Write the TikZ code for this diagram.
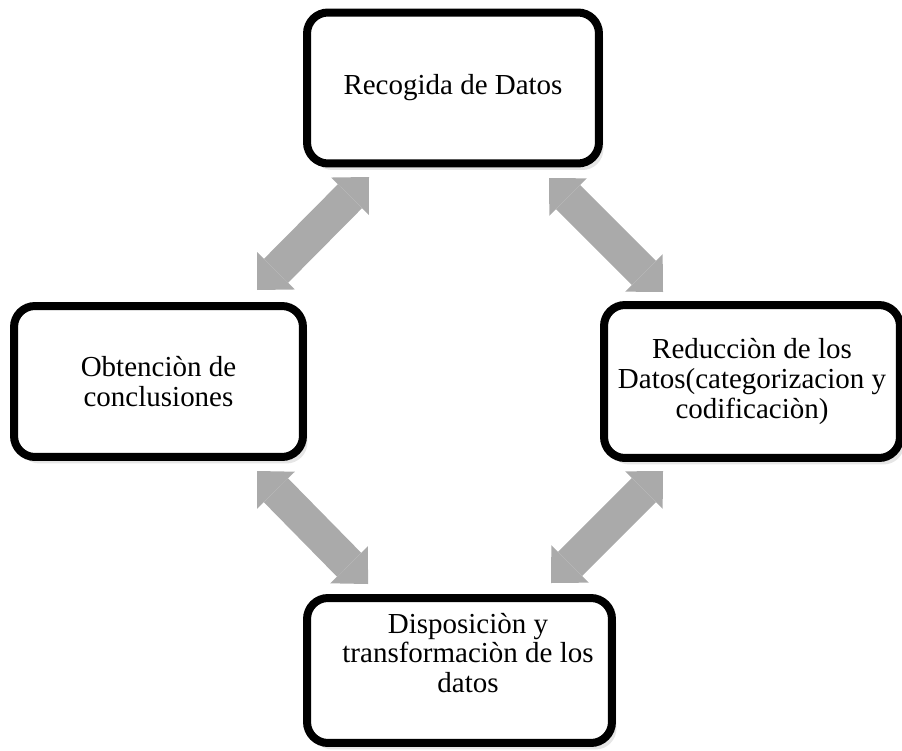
\documentclass[tikz,border=0pt]{standalone}
\usepackage{fontspec}
\setmainfont{Liberation Serif}
\usetikzlibrary{arrows.meta,shadows}
\definecolor{arrowgrey}{HTML}{AAAAAA}
\definecolor{shadowgrey}{HTML}{8C8C8C}
\tikzset{
  stagebox/.style={draw=black,line width=0.16cm,rounded corners=0.42cm,fill=white,align=center,inner sep=2pt,font=\fontsize{16.5}{17}\selectfont,
    drop shadow={shadow xshift=0.09cm,shadow yshift=-0.13cm,opacity=0.22,fill=shadowgrey}},
  stagetext/.style={align=center,font=\fontsize{16.5}{17}\selectfont},
  cyclearrow/.style={arrowgrey,line width=0.68cm,
    {Triangle[width=1.06cm,length=0.54cm,line width=0pt]}-{Triangle[width=1.06cm,length=0.54cm,line width=0pt]}}
}

\begin{document}
\begin{tikzpicture}[x=0.02cm,y=-0.02cm]
\useasboundingbox (0,0) rectangle (902,750);
% arrow end points
\foreach \an/\ax/\ay in {rtl/369/177,otl/257/290,rtr/549/178,dtr/663/292,obl/257/471,dbl/368/584,dbr/663/471,dbb/551/583}{\coordinate (\an) at (\ax,\ay);}
\foreach \a/\b in {rtl/otl,rtr/dtr,obl/dbl,dbr/dbb}{\draw[cyclearrow] (\a)--(\b);}
% the four stages
\node[stagebox,minimum width=5.84cm,minimum height=3.02cm] (recogida) at (453,88) {Recogida de Datos};
\node[stagebox,minimum width=5.78cm,minimum height=3.02cm] (obtencion) at (158.5,381.5) {Obtenciòn de\\conclusiones};
\node[stagebox,minimum width=5.92cm,minimum height=3.06cm] (reduccion) at (752,381.5) {Reducciòn de los\\Datos(categorizacion y\\codificaciòn)};
\node[stagebox,minimum width=6.1cm,minimum height=2.9cm] (disposicion) at (459.5,670.5) {};
\node[stagetext] (disposiciontxt) at (468,653) {Disposiciòn y\\transformaciòn de los\\datos};
\end{tikzpicture}
\end{document}
